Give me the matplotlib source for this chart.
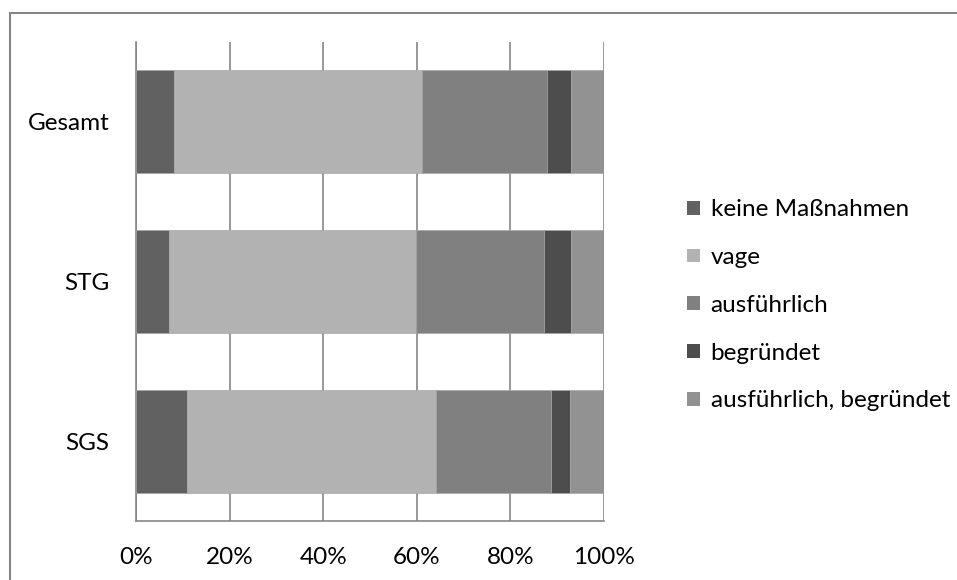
import matplotlib.pyplot as plt
import numpy as np
from matplotlib.patches import Rectangle, Patch
from matplotlib.ticker import PercentFormatter

# shares per group (percent), top to bottom
groups = ["Gesamt", "STG", "SGS"]
keine = [8.1, 7.1, 10.8]
vage = [53.0, 52.7, 53.3]
ausfuehrlich = [26.7, 27.4, 24.6]
begruendet = [5.1, 5.7, 4.0]
ausf_begr = [7.1, 7.1, 7.3]

series = [
    ("keine Maßnahmen", keine, "#616161"),
    ("vage", vage, "#b2b2b2"),
    ("ausführlich", ausfuehrlich, "#808080"),
    ("begründet", begruendet, "#4d4d4d"),
    ("ausführlich, begründet", ausf_begr, "#929292"),
]

plt.rcParams["font.family"] = ["Lato", "DejaVu Sans"]
FS = 17.5

W, H = 957, 580
fig = plt.figure(figsize=(W / 100, H / 100), dpi=100)
ax = fig.add_axes([136 / W, 1 - 521 / H, (604 - 136) / W, (521 - 42) / H])

# outer frame of the chart object
fig.patches.append(Rectangle((10 / W, -0.1), 1.2, 1 - 13 / H + 0.1,
                             transform=fig.transFigure, fill=False,
                             edgecolor="#868686", linewidth=1.5))

y = np.arange(len(groups))[::-1]
left = np.zeros(len(groups))
for name, vals, col in series:
    vals = np.array(vals)
    ax.barh(y, vals, left=left, height=0.645, color=col, label=name,
            edgecolor="#a6a6a6", linewidth=0.5, zorder=3)
    left += vals

ax.set_xlim(0, 100)
ax.set_ylim(-0.5, 2.5)
ax.set_xticks(np.arange(0, 101, 20))
ax.xaxis.set_major_formatter(PercentFormatter(decimals=0))
ax.set_yticks(y)
ax.set_yticklabels(groups)
ax.grid(axis="x", color="#868686", linewidth=1.2, zorder=0)
ax.tick_params(length=0, labelsize=FS, colors="black")
ax.tick_params(axis="x", pad=19)
ax.tick_params(axis="y", pad=19)
for s in ["top", "right"]:
    ax.spines[s].set_visible(False)
for s in ["left", "bottom"]:
    ax.spines[s].set_color("#868686")
    ax.spines[s].set_linewidth(1.2)

handles = [Patch(facecolor=c, label=n) for n, _, c in series]
fig.legend(handles=handles, loc="upper left",
           bbox_to_anchor=(668 / W, 1 - 180 / H), frameon=False,
           fontsize=FS, handlelength=0.5, handleheight=0.5,
           handletextpad=0.45, labelspacing=1.1, borderpad=0.3)

fig.savefig("out.png", dpi=100)
